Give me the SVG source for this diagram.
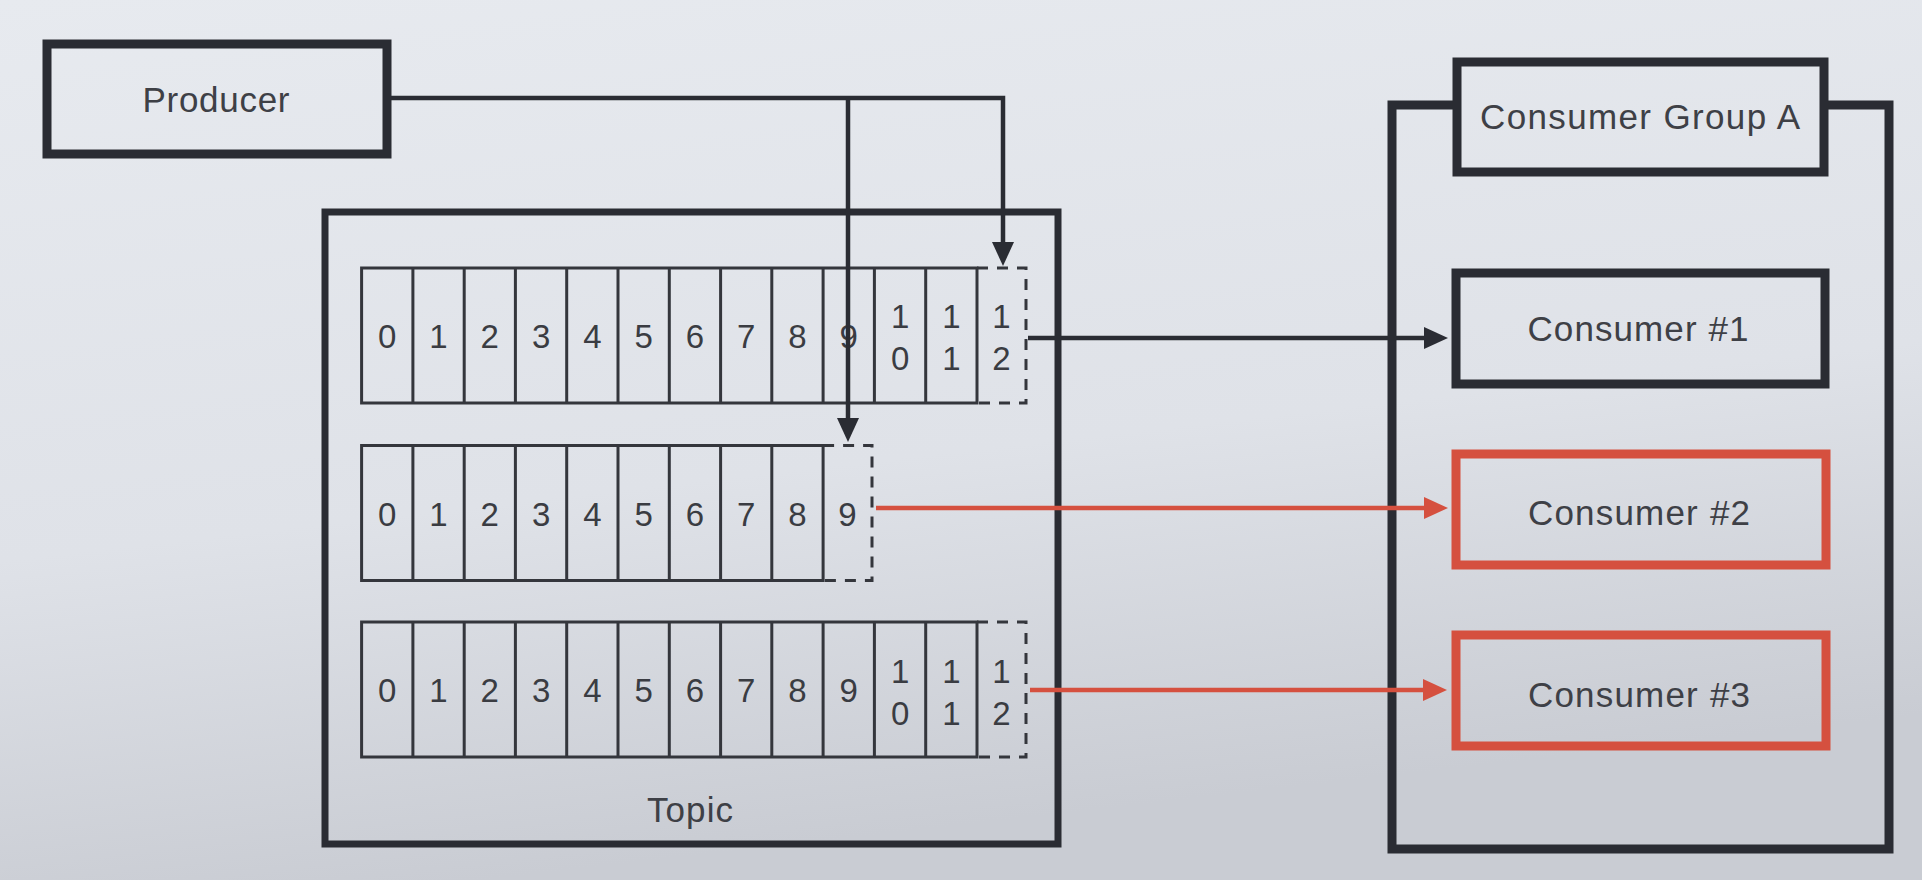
<svg xmlns="http://www.w3.org/2000/svg" width="1922" height="880" viewBox="0 0 1922 880">
<defs>
<linearGradient id="bg" x1="0" y1="0" x2="0.25" y2="1">
<stop offset="0" stop-color="#e7eaef"/>
<stop offset="0.6" stop-color="#dfe2e8"/>
<stop offset="1" stop-color="#c9ccd3"/>
</linearGradient>
<marker id="ah" viewBox="0 0 24 22" refX="14" refY="11" markerWidth="24" markerHeight="22" markerUnits="userSpaceOnUse" orient="auto">
<path d="M0,0 L24,11 L0,22 z" fill="#2a2c33"/>
</marker>
<marker id="ahr" viewBox="0 0 24 22" refX="14" refY="11" markerWidth="24" markerHeight="22" markerUnits="userSpaceOnUse" orient="auto">
<path d="M0,0 L24,11 L0,22 z" fill="#d5503f"/>
</marker>
</defs>
<style>
.box{fill:none;stroke:#2a2c33;stroke-width:9}
.rbox{fill:none;stroke:#d5503f;stroke-width:9}
.frame{fill:none;stroke:#2a2c33;stroke-width:7}
.cell{fill:none;stroke:#34363c;stroke-width:3}
.dash{fill:none;stroke:#34363c;stroke-width:3;stroke-dasharray:11 9}
.lbl{font-family:"Liberation Sans",Arial,sans-serif;font-size:35px;fill:#3e4046;text-anchor:middle}
.dg{font-family:"Liberation Sans",Arial,sans-serif;font-size:33px;fill:#3a3c42;text-anchor:middle}
.con{fill:none;stroke:#2a2c33;stroke-width:4.5}
.rcon{fill:none;stroke:#d5503f;stroke-width:4.5}
</style>
<rect x="0" y="0" width="1922" height="880" fill="url(#bg)"/>

<g id="producer">
<rect class="box" x="47" y="44" width="340" height="110"/>
<text class="lbl" x="216" y="112" textLength="147" lengthAdjust="spacing">Producer</text>
</g>

<g id="topic">
<rect class="frame" x="325" y="212" width="733" height="632"/>
<text class="lbl" x="690" y="822" textLength="86" lengthAdjust="spacing">Topic</text>
</g>

<g id="partition-0">
<rect class="cell" x="361.6" y="268" width="615.4" height="135"/>
<path class="cell" d="M412.9,268V403M464.2,268V403M515.4,268V403M566.7,268V403M618,268V403M669.3,268V403M720.6,268V403M771.8,268V403M823.1,268V403M874.4,268V403M925.7,268V403"/>
<path class="dash" d="M977,268H1026V403H977"/>
<g class="dg">
<text x="387.2" y="348">0</text><text x="438.5" y="348">1</text><text x="489.8" y="348">2</text><text x="541.1" y="348">3</text><text x="592.4" y="348">4</text><text x="643.6" y="348">5</text><text x="694.9" y="348">6</text><text x="746.2" y="348">7</text><text x="797.5" y="348">8</text><text x="848.8" y="348">9</text>
<text x="900.1" y="328">1</text><text x="900.1" y="370">0</text>
<text x="951.4" y="328">1</text><text x="951.4" y="370">1</text>
<text x="1001.5" y="328">1</text><text x="1001.5" y="370">2</text>
</g>
</g>

<g id="partition-1">
<rect class="cell" x="361.6" y="445.5" width="461.5" height="135"/>
<path class="cell" d="M412.9,445.5V580.5M464.2,445.5V580.5M515.4,445.5V580.5M566.7,445.5V580.5M618,445.5V580.5M669.3,445.5V580.5M720.6,445.5V580.5M771.8,445.5V580.5"/>
<path class="dash" d="M823.1,445.5H872V580.5H823.1"/>
<g class="dg">
<text x="387.2" y="526">0</text><text x="438.5" y="526">1</text><text x="489.8" y="526">2</text><text x="541.1" y="526">3</text><text x="592.4" y="526">4</text><text x="643.6" y="526">5</text><text x="694.9" y="526">6</text><text x="746.2" y="526">7</text><text x="797.5" y="526">8</text><text x="847.5" y="526">9</text>
</g>
</g>

<g id="partition-2">
<rect class="cell" x="361.6" y="622" width="615.4" height="135"/>
<path class="cell" d="M412.9,622V757M464.2,622V757M515.4,622V757M566.7,622V757M618,622V757M669.3,622V757M720.6,622V757M771.8,622V757M823.1,622V757M874.4,622V757M925.7,622V757"/>
<path class="dash" d="M977,622H1026V757H977"/>
<g class="dg">
<text x="387.2" y="702">0</text><text x="438.5" y="702">1</text><text x="489.8" y="702">2</text><text x="541.1" y="702">3</text><text x="592.4" y="702">4</text><text x="643.6" y="702">5</text><text x="694.9" y="702">6</text><text x="746.2" y="702">7</text><text x="797.5" y="702">8</text><text x="848.8" y="702">9</text>
<text x="900.1" y="683">1</text><text x="900.1" y="725">0</text>
<text x="951.4" y="683">1</text><text x="951.4" y="725">1</text>
<text x="1001.5" y="683">1</text><text x="1001.5" y="725">2</text>
</g>
</g>

<g id="consumer-group-a">
<path class="box" d="M1457,105H1392V849H1889V105H1824" stroke-width="8"/>
<rect class="box" x="1457" y="62" width="367" height="110"/>
<text class="lbl" x="1640" y="129" textLength="320" lengthAdjust="spacing">Consumer Group A</text>
</g>

<g id="consumer-1">
<rect class="box" x="1456" y="273" width="369" height="111"/>
<text class="lbl" x="1638" y="341" textLength="221" lengthAdjust="spacing">Consumer #1</text>
</g>

<g id="consumer-2">
<rect class="rbox" x="1456" y="454" width="370" height="111"/>
<text class="lbl" x="1639" y="525" textLength="222" lengthAdjust="spacing">Consumer #2</text>
</g>

<g id="consumer-3">
<rect class="rbox" x="1456" y="635" width="370" height="111"/>
<text class="lbl" x="1639" y="707" textLength="222" lengthAdjust="spacing">Consumer #3</text>
</g>

<g id="connectors">
<path class="con" d="M391,98H1003V256" marker-end="url(#ah)"/>
<path class="con" d="M848,98V432" marker-end="url(#ah)"/>
<path class="con" d="M1028,338H1438" marker-end="url(#ah)"/>
<path class="rcon" d="M876,508H1438" marker-end="url(#ahr)"/>
<path class="rcon" d="M1030,690H1437" marker-end="url(#ahr)"/>
</g>
</svg>
